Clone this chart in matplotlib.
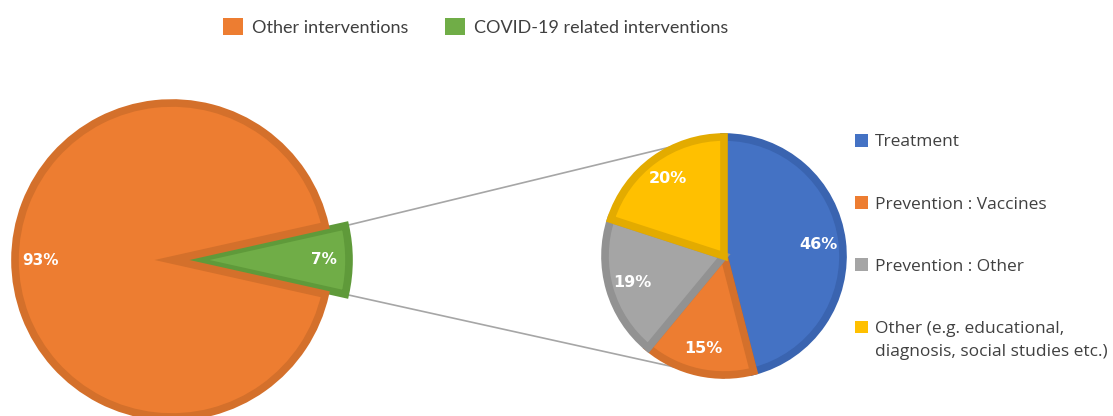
import numpy as np
import matplotlib.pyplot as plt
from matplotlib.patches import Patch

# share of all interventions
main_labels = ['COVID-19 related interventions', 'Other interventions']
main_values = [7, 93]

# breakdown of the COVID-19 related interventions
covid_labels = ['Treatment', 'Prevention : Vaccines', 'Prevention : Other',
                'Other (e.g. educational,']
covid_note = 'diagnosis, social studies etc.)'
covid_values = [46, 15, 19, 20]

orange, orange_dk = '#ED7D31', '#D4702B'
green, green_dk = '#70AD47', '#5F9A3A'
covid_face = ['#4472C4', '#ED7D31', '#A5A5A5', '#FFC000']
covid_edge = ['#3A64B0', '#D4702B', '#929292', '#E3AB00']
text_col = '#404040'

W, H = 1113, 416
fig = plt.figure(figsize=(W / 100, H / 100), dpi=100)
ax = fig.add_axes([0, 0, 1, 1])

rim = 5.5  # points
big_c, big_r, big_expl = (172, 156), 157, 20
small_c, small_r = (724, 160), 119

half = main_values[0] / sum(main_values) * 180
big, big_txt, big_pct = ax.pie(
    main_values, colors=[green, orange], startangle=-half,
    explode=[big_expl, 0], center=big_c, radius=big_r,
    autopct='%d%%', pctdistance=0.84,
    wedgeprops=dict(linewidth=rim, joinstyle='miter'),
    textprops=dict(color='white', fontsize=11, fontweight='bold'))
for w, ec in zip(big, [green_dk, orange_dk]):
    w.set_edgecolor(ec)
    w.set_zorder(2)
for t in big_pct:
    t.set_zorder(5)

small, small_txt, small_pct = ax.pie(
    covid_values, colors=covid_face, startangle=90, counterclock=False,
    center=small_c, radius=small_r,
    autopct='%d%%', pctdistance=0.8,
    wedgeprops=dict(linewidth=rim, joinstyle='miter'),
    textprops=dict(color='white', fontsize=11.5, fontweight='bold'))
for w, ec in zip(small, covid_edge):
    w.set_edgecolor(ec)
    w.set_zorder(2)
for t in small_pct:
    t.set_zorder(5)

# connector lines from the exploded slice to the top/bottom of the second pie
gx = big_c[0] + big_expl
outer = big_r + 3
for sgn in (1, -1):
    x0 = gx + outer * np.cos(np.radians(half))
    y0 = big_c[1] + sgn * outer * np.sin(np.radians(half))
    ax.plot([x0, small_c[0]], [y0, small_c[1] + sgn * (small_r + 3)],
            color='#A6A6A6', lw=1.2, zorder=1)

ax.set_xlim(0, W)
ax.set_ylim(0, H)
ax.set_aspect('equal')
ax.axis('off')

top_handles = [Patch(facecolor=orange), Patch(facecolor=green)]
fig.legend(top_handles, ['Other interventions', 'COVID-19 related interventions'],
           loc='center left', bbox_to_anchor=(223 / W, 1 - 27 / H), ncol=2,
           frameon=False, handlelength=1.1, handleheight=1.1,
           handletextpad=0.5, columnspacing=2.05, borderpad=0, borderaxespad=0,
           labelcolor=text_col, prop={'family': 'Lato', 'size': 13})

side_handles = [Patch(facecolor=c) for c in covid_face]
side = ax.legend(side_handles, covid_labels, loc='upper left',
                 bbox_to_anchor=(855 / W, 1 - 134 / H), frameon=False,
                 handlelength=0.75, handleheight=0.75, handletextpad=0.4,
                 labelspacing=2.64, borderpad=0, borderaxespad=0,
                 labelcolor=text_col, prop={'family': 'Open Sans', 'size': 12.5})

# second line of the last side-legend entry, placed under the first one
fig.canvas.draw()
bb = side.get_texts()[-1].get_window_extent()
fig.text(bb.x0 / W, (bb.y0 - 23) / H, covid_note, ha='left', va='bottom',
         color=text_col, family='Open Sans', fontsize=12.5)

fig.savefig('out.png', dpi=100)
